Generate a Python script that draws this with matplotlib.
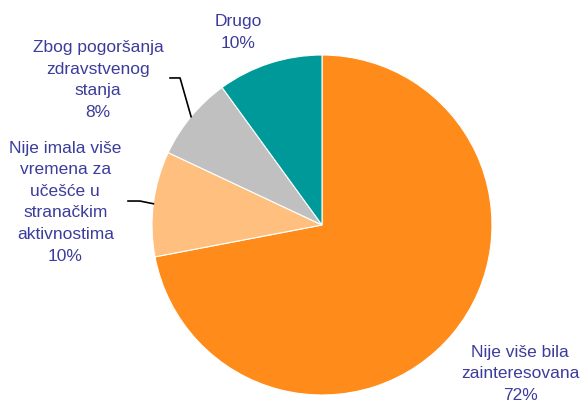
import matplotlib
matplotlib.use('Agg')
import matplotlib.pyplot as plt

plt.rcParams['font.family'] = ['Liberation Sans', 'DejaVu Sans']

labels = ['Nije više bila\nzainteresovana', 'Nije imala više\nvremena za\nučešće u\nstranačkim\naktivnostima',
          'Zbog pogoršanja\nzdravstvenog\nstanja', 'Drugo']
shares = [72, 10, 8, 10]
colors = ['#FF8C1A', '#FFBF7F', '#C0C0C0', '#009999']
text_color = '#3C3C9C'

fig = plt.figure(figsize=(5.84, 4.02), dpi=100)
cx, cy, r = 322, 176, 170
ax = fig.add_axes([(cx - r) / 584, (cy - r) / 402, 2 * r / 584, 2 * r / 402])
ax.pie(shares, colors=colors, startangle=90, counterclock=False, radius=1,
       wedgeprops=dict(edgecolor='white', linewidth=0.8))
ax.set_xlim(-1, 1)
ax.set_ylim(-1, 1)
ax.axis('off')

# label positions in pie units
label_pos = [(1.165, -0.87), (-1.51, 0.141), (-1.318, 0.859), (-0.494, 1.14)]
for lab, val, (x, y) in zip(labels, shares, label_pos):
    ax.text(x, y, f'{lab}\n{val}%', ha='center', va='center', fontsize=12.5,
            color=text_color, linespacing=1.55, clip_on=False)

# leader lines for the two small left slices
ax.plot([-0.894, -0.835, -0.770], [0.865, 0.865, 0.637], color='black', lw=1.2, clip_on=False)
ax.plot([-1.141, -1.071, -0.992], [0.141, 0.141, 0.125], color='black', lw=1.2, clip_on=False)

fig.savefig('out.png', dpi=100)
